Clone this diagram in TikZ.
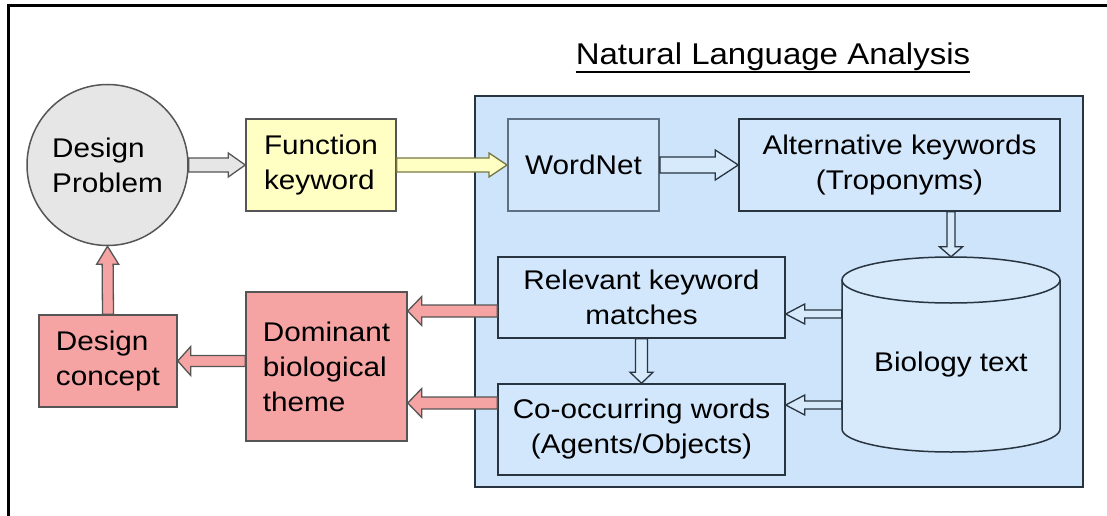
\documentclass[tikz,border=0pt]{standalone}
\usepackage{fontspec}
\setmainfont[FakeStretch=1.1]{Liberation Sans}
\usetikzlibrary{calc}

\definecolor{nlablue}{RGB}{205,228,250}
\definecolor{boxblue}{RGB}{210,231,251}
\definecolor{cylblue}{RGB}{214,234,252}
\definecolor{salmon}{RGB}{245,163,163}
\definecolor{paleyellow}{RGB}{255,255,196}
\definecolor{circlegray}{RGB}{230,230,230}
\definecolor{edgegray}{RGB}{85,85,85}
\definecolor{slate}{RGB}{40,52,64}
\definecolor{slatelight}{RGB}{95,112,130}

% block arrow: style, tail, tip, shaft half-width, head half-width, head length
\newcommand{\blockarrow}[6]{%
  \coordinate (ba-h) at ($(#3)!#6!(#2)$);
  \draw[#1] ($(#2)!#4!90:(#3)$) -- ($(ba-h)!#4!90:(#3)$) -- ($(ba-h)!#5!90:(#3)$)
    -- (#3) -- ($(ba-h)!#5!-90:(#3)$) -- ($(ba-h)!#4!-90:(#3)$)
    -- ($(#2)!#4!-90:(#3)$) -- cycle;
}

\tikzset{
  txt/.style={font=\fontsize{27}{35}\selectfont, text=black, inner sep=0pt},
  bluebox/.style={txt, draw=slate, line width=1.5pt, fill=boxblue, align=center},
  redbox/.style={txt, draw=edgegray, line width=1.5pt, fill=salmon, align=left},
  grayarrow/.style={draw=edgegray, line width=1.3pt, fill=circlegray, line join=miter},
  yellowarrow/.style={draw=edgegray!80!yellow, line width=1.3pt, fill=paleyellow, line join=miter},
  bluearrow/.style={draw=slate, line width=1.3pt, fill=cylblue, line join=miter},
  redarrow/.style={draw=edgegray, line width=1.3pt, fill=salmon, line join=miter},
}

\begin{document}
\begin{tikzpicture}[x=1pt, y=-1pt]
\useasboundingbox (0,0) rectangle (1107,516);

% page frame (top and left edges)
\draw[line width=2.5pt, line cap=rect] (8.5,516) -- (8.5,5.5) -- (1107,5.5);

% title of the analysis block
\node[font=\fontsize{30}{35}\selectfont, inner sep=0pt, anchor=base] (title) at (773,65) {Natural Language Analysis};
\draw[line width=2pt] ([yshift=-7pt]title.base west) -- ([yshift=-7pt]title.base east);

% natural language analysis container
\node[draw=slate, line width=2pt, fill=nlablue, minimum width=608pt, minimum height=391pt, inner sep=0pt] (nla) at (779,291.5) {};

% left-hand flow
\node[txt, circle, draw=edgegray, line width=1.5pt, fill=circlegray, minimum size=161pt, align=left] (dp) at (107.5,165) {Design\\Problem};
\node[txt, draw=edgegray, line width=1.5pt, fill=paleyellow, minimum width=150pt, minimum height=92pt, align=left] (fk) at (321,165) {Function\\keyword};
\node[redbox, minimum width=161pt, minimum height=149pt] (dom) at (326.5,366.5) {Dominant\\biological\\theme};
\node[redbox, minimum width=138pt, minimum height=92pt] (dc) at (108,361) {Design\\concept};

% analysis steps
\node[bluebox, draw=slatelight, line width=2pt, minimum width=151pt, minimum height=92pt] (wn) at (583.5,165) {WordNet};
\node[bluebox, minimum width=321pt, minimum height=92pt] (alt) at (899.5,165) {Alternative keywords\\(Troponyms)};
\node[bluebox, minimum width=287pt, minimum height=81pt] (rel) at (641.5,297.5) {Relevant keyword\\matches};
\node[bluebox, minimum width=287pt, minimum height=91pt] (co) at (641.5,429.5) {Co-occurring words\\(Agents/Objects)};

% biology text store (cylinder)
\node[txt, minimum width=218pt, minimum height=195pt] (cyl) at (951,354.5) {};
\fill[cylblue] (842,280) -- (842,429) arc[start angle=180, end angle=360, x radius=109pt, y radius=23pt]
  -- (1060,280) arc[start angle=0, end angle=180, x radius=109pt, y radius=23pt] -- cycle;
\draw[slate, line width=1.5pt] (842,280) -- (842,429) arc[start angle=180, end angle=360, x radius=109pt, y radius=23pt] -- (1060,280);
\draw[slate, line width=1.5pt] (951,280) ellipse[x radius=109pt, y radius=23pt];
\node[txt] (bt) at ([yshift=-10pt]cyl.center) {Biology text};

% connector end points
\coordinate (alt-out) at (alt.south -| cyl.north);
\coordinate (rel-in) at ([yshift=-16.5pt]rel.east);
\coordinate (cyl-out1) at (rel-in -| cyl.west);
\coordinate (co-in) at ([yshift=24.5pt]co.east);
\coordinate (cyl-out2) at (co-in -| cyl.west);
\coordinate (rel-out) at ([yshift=-13.5pt]rel.west);
\coordinate (dom-in1) at (rel-out -| dom.east);
\coordinate (co-out) at ([yshift=26.5pt]co.west);
\coordinate (dom-in2) at (co-out -| dom.east);
\coordinate (dom-out) at (dom.west |- dc.east);

% connectors
\blockarrow{grayarrow}{dp.east}{fk.west}{7pt}{12pt}{17pt}
\blockarrow{yellowarrow}{fk.east}{wn.west}{7pt}{12pt}{18pt}
\blockarrow{bluearrow}{wn.east}{alt.west}{8pt}{15pt}{23pt}
\blockarrow{bluearrow}{alt-out}{cyl.north}{4pt}{11.5pt}{10pt}
\blockarrow{bluearrow}{cyl-out1}{rel-in}{4pt}{10pt}{19pt}
\blockarrow{bluearrow}{cyl-out2}{co-in}{4pt}{10pt}{19pt}
\blockarrow{bluearrow}{rel.south}{co.north}{6pt}{11.5pt}{11pt}
\blockarrow{redarrow}{rel-out}{dom-in1}{6pt}{14.5pt}{14pt}
\blockarrow{redarrow}{co-out}{dom-in2}{6pt}{14.5pt}{14pt}
\blockarrow{redarrow}{dom-out}{dc.east}{5.5pt}{14.5pt}{13pt}
\blockarrow{redarrow}{dc.north}{dp.south}{5.5pt}{11pt}{18pt}
\end{tikzpicture}
\end{document}
